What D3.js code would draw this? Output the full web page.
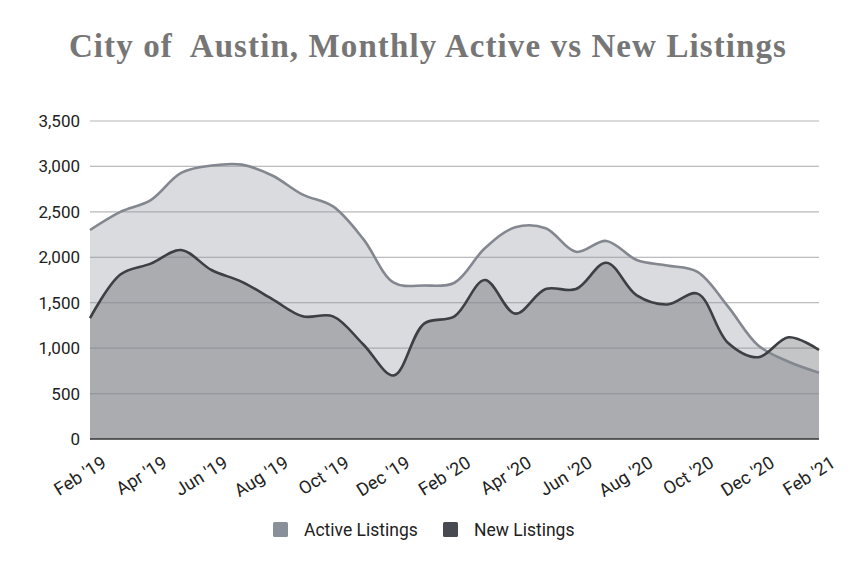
<!DOCTYPE html>
<html><head><meta charset="utf-8">
<script src="https://cdn.jsdelivr.net/npm/d3@7"></script>
<style>body{margin:0;background:#fff}</style>
</head><body>
<svg id="c" width="856" height="575"></svg>
<script>
const months = ["Feb '19","Mar '19","Apr '19","May '19","Jun '19","Jul '19","Aug '19","Sep '19","Oct '19","Nov '19","Dec '19","Jan '20","Feb '20","Mar '20","Apr '20","May '20","Jun '20","Jul '20","Aug '20","Sep '20","Oct '20","Nov '20","Dec '20","Jan '21","Feb '21"];
const activeListings = [2300,2500,2630,2930,3010,3020,2900,2690,2560,2200,1720,1690,1720,2100,2330,2320,2060,2180,1970,1910,1840,1460,1030,850,730];
const newListings = [1330,1810,1930,2080,1860,1730,1540,1350,1350,1040,700,1270,1350,1750,1380,1650,1650,1940,1580,1480,1600,1060,900,1120,980];
const yTicks = [0,500,1000,1500,2000,2500,3000,3500];
const xTickLabels = months.filter((d,i)=>i%2===0);

const svg = d3.select("#c");
const m = {l:90, r:37, t:121, b:136};
const W = 856, H = 575;
const x = d3.scalePoint().domain(months).range([m.l, W-m.r]);
const y = d3.scaleLinear().domain([0,3500]).range([H-m.b, m.t]);

svg.append("text").attr("x",428).attr("y",57).attr("text-anchor","middle")
  .attr("font-family","Liberation Serif, serif").attr("font-weight","bold").attr("font-size",33)
  .attr("letter-spacing",1.1)
  .attr("fill","#767676").style("white-space","pre").text("City of  Austin, Monthly Active vs New Listings");

svg.append("g").selectAll("line").data(yTicks.filter(d=>d>0)).join("line")
  .attr("x1",m.l).attr("x2",W-m.r).attr("y1",d=>y(d)).attr("y2",d=>y(d))
  .attr("stroke","#cfcfcf").attr("stroke-width",1.2);

const series = [
  {name:"Active Listings", values:activeListings, color:"#8a9099", line:"#838890"},
  {name:"New Listings", values:newListings, color:"#474a51", line:"#3c3f44"}
];
const curve = d3.curveCatmullRom.alpha(0.5);
series.forEach(s=>{
  const area = d3.area().x((d,i)=>x(months[i])).y0(y(0)).y1(d=>y(d)).curve(curve);
  svg.append("path").datum(s.values).attr("d",area).attr("fill",s.color).attr("fill-opacity",0.32);
});
svg.append("g").selectAll("line").data(yTicks.filter(d=>d>0)).join("line")
  .attr("x1",m.l).attr("x2",W-m.r).attr("y1",d=>y(d)).attr("y2",d=>y(d))
  .attr("stroke","#9a9ca0").attr("stroke-opacity",0.35).attr("stroke-width",1.2);
series.forEach(s=>{
  const line = d3.line().x((d,i)=>x(months[i])).y(d=>y(d)).curve(curve);
  svg.append("path").datum(s.values).attr("d",line).attr("fill","none").attr("stroke",s.line).attr("stroke-width",2.6);
});
svg.append("line").attr("x1",m.l).attr("x2",W-m.r).attr("y1",y(0)).attr("y2",y(0)).attr("stroke","#333").attr("stroke-width",1.6);

const ya = svg.append("g").attr("transform",`translate(${m.l},0)`)
  .call(d3.axisLeft(y).tickValues(yTicks).tickFormat(d3.format(",")).tickSize(0).tickPadding(10));
ya.select(".domain").remove();
ya.selectAll("text").attr("font-family","Roboto, Arial, sans-serif").attr("font-size",17).attr("fill","#222");

const xa = svg.append("g").attr("transform",`translate(0,${y(0)})`)
  .call(d3.axisBottom(x).tickValues(xTickLabels).tickSize(0).tickPadding(0));
xa.select(".domain").remove();
xa.selectAll("text").attr("font-family","Roboto, Arial, sans-serif").attr("font-size",18).attr("fill","#222")
  .attr("text-anchor","end").attr("dy",0)
  .attr("transform","translate(17,27) rotate(-32)");

const lg = svg.append("g");
const lx = [273, 443];
series.forEach((s,i)=>{
  lg.append("rect").attr("x",lx[i]).attr("y",522).attr("width",15).attr("height",15).attr("rx",1.5).attr("fill",s.color);
  lg.append("text").attr("x",lx[i]+31).attr("y",536).attr("font-family","Roboto, Arial, sans-serif").attr("font-size",17.5).attr("fill","#222").text(s.name);
});
</script>
</body></html>
